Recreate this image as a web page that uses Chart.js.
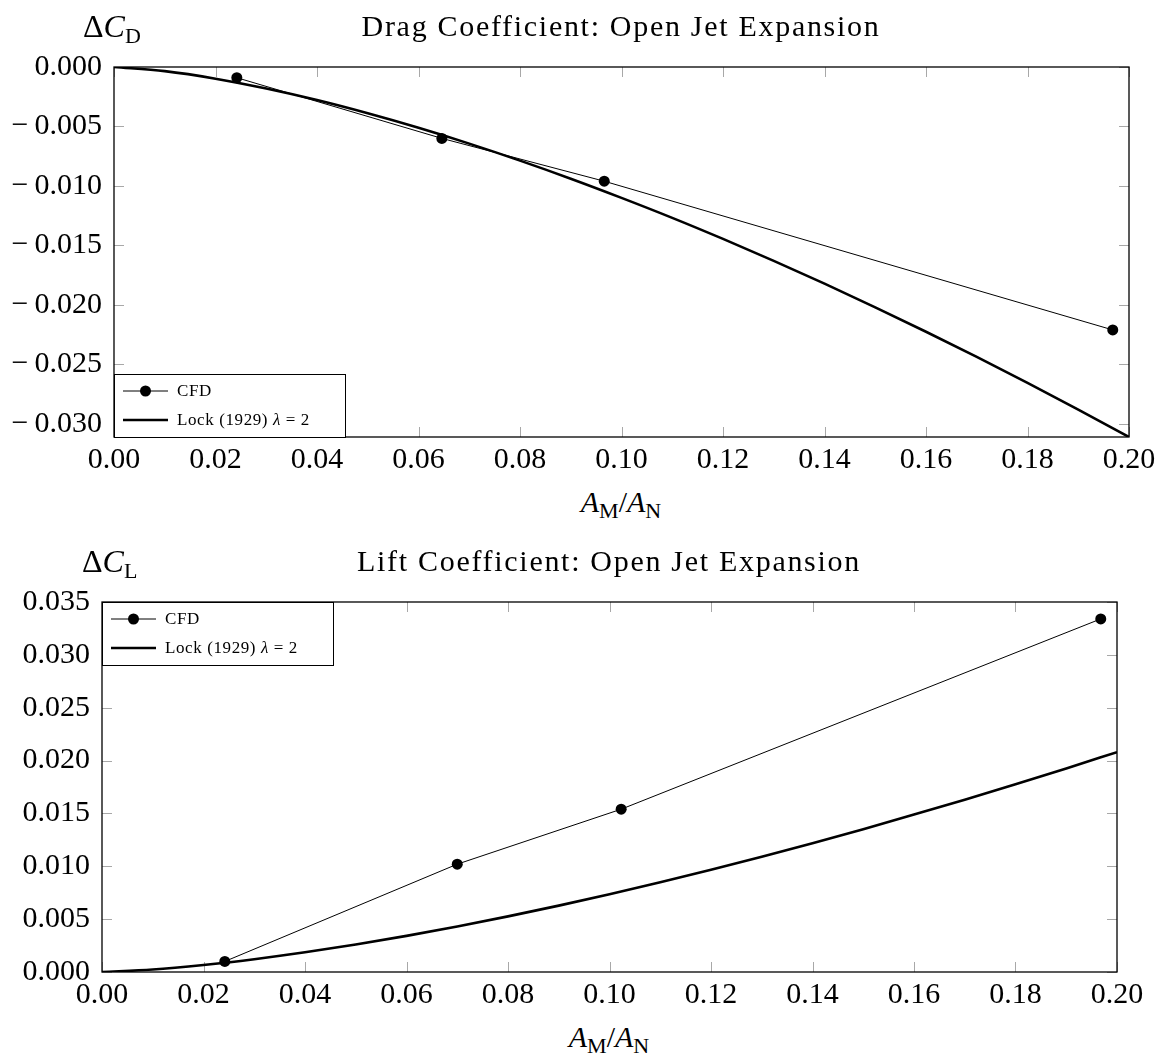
<!DOCTYPE html>
<html>
<head>
<meta charset="utf-8">
<title>Open Jet Expansion</title>
<script src="https://cdn.jsdelivr.net/npm/chart.js@4.4.1/dist/chart.umd.min.js"></script>
<style>
    body { margin: 0; background: #fff; }
    #page { position: relative; width: 1164px; height: 1056px; font-family: 'Liberation Serif', serif; color: #000; }
    .panel { position: absolute; left: 0; width: 1164px; height: 480px; }
    .lbl { position: absolute; font-size: 30px; line-height: 30px; white-space: nowrap; }
    .ylbl { font-size: 32px; }
    .title { letter-spacing: 1.7px; transform: translateX(-50%); }
    .center { transform: translateX(-50%); }
    .lbl sub { font-size: 22px; vertical-align: -6px; line-height: 0; font-style: normal; }
</style>
</head>
<body>
<div id="page">
    <div class="panel" style="top:0"><canvas id="drag-chart" width="1164" height="480"></canvas></div>
    <div class="panel" style="top:535px"><canvas id="lift-chart" width="1164" height="480"></canvas></div>

    <div class="lbl ylbl" style="left:83px; top:11px">&Delta;<i>C</i><sub>D</sub></div>
    <div class="lbl title" style="left:621px; top:11px">Drag Coefficient: Open Jet Expansion</div>
    <div class="lbl center" style="left:621px; top:487px"><i>A</i><sub>M</sub>/<i>A</i><sub>N</sub></div>

    <div class="lbl ylbl" style="left:82px; top:546px">&Delta;<i>C</i><sub>L</sub></div>
    <div class="lbl title" style="left:609px; top:546px">Lift Coefficient: Open Jet Expansion</div>
    <div class="lbl center" style="left:609px; top:1022px"><i>A</i><sub>M</sub>/<i>A</i><sub>N</sub></div>
</div>

<script>
// ===== Data =====
const ratioTicks = [0, 0.02, 0.04, 0.06, 0.08, 0.10, 0.12, 0.14, 0.16, 0.18, 0.20];
const dragTicks = [0, -0.005, -0.010, -0.015, -0.020, -0.025, -0.030];
const liftTicks = [0, 0.005, 0.010, 0.015, 0.020, 0.025, 0.030, 0.035];

// CFD runs
const cfdDragRatio = [0.0242, 0.0646, 0.0966, 0.1968];
const cfdDrag = [-0.0009, -0.0060, -0.0096, -0.0221];
const cfdLiftRatio = [0.0242, 0.0700, 0.1023, 0.1968];
const cfdLift = [0.0010, 0.0102, 0.0154, 0.0334];

// Lock (1929), lambda = 2
const lockRatio = [0, 0.01, 0.02, 0.03, 0.04, 0.05, 0.06, 0.07, 0.08, 0.09, 0.10,
    0.11, 0.12, 0.13, 0.14, 0.15, 0.16, 0.17, 0.18, 0.19, 0.20];
const lockDrag = [0, -0.00035, -0.00098, -0.00181, -0.00278, -0.00389, -0.00511, -0.00644, -0.00787, -0.00939, -0.01100,
    -0.01268, -0.01445, -0.01630, -0.01821, -0.02020, -0.02225, -0.02437, -0.02655, -0.02880, -0.03110];
const lockLift = [0, 0.00023, 0.00066, 0.00121, 0.00186, 0.00260, 0.00342, 0.00431, 0.00526, 0.00628, 0.00736,
    0.00849, 0.00967, 0.01090, 0.01218, 0.01351, 0.01489, 0.01630, 0.01776, 0.01926, 0.02080];

const FONT = "'Liberation Serif', serif";
const TICK_GRAY = '#a8a8a8';

const toPoints = (xs, ys) => xs.map((x, i) => ({ x, y: ys[i] }));
// wide minus like the TeX one
const fmtY = v => (v < 0 ? '\u2212\u2009' : '') + Math.abs(v).toFixed(3);

// ===== Plugins =====
// pgfplots-style frame with short inward ticks on all four sides
const frameTicks = {
    id: 'frameTicks',
    beforeDatasetsDraw(chart) {
        const { ctx, chartArea: a, scales: { x, y } } = chart;
        ctx.save();
        ctx.strokeStyle = TICK_GRAY;
        ctx.lineWidth = 1;
        ctx.beginPath();
        x.ticks.forEach(t => {
            const px = Math.round(x.getPixelForValue(t.value)) + 0.5;
            ctx.moveTo(px, a.top); ctx.lineTo(px, a.top + 10);
            ctx.moveTo(px, a.bottom); ctx.lineTo(px, a.bottom - 10);
        });
        y.ticks.forEach(t => {
            const py = Math.round(y.getPixelForValue(t.value)) + 0.5;
            ctx.moveTo(a.left, py); ctx.lineTo(a.left + 10, py);
            ctx.moveTo(a.right, py); ctx.lineTo(a.right - 10, py);
        });
        ctx.stroke();
        ctx.restore();
    },
    afterDatasetsDraw(chart) {
        const { ctx, chartArea: a } = chart;
        ctx.save();
        ctx.strokeStyle = '#000';
        ctx.lineWidth = 1.3;
        ctx.strokeRect(a.left, a.top, a.width, a.height);
        ctx.restore();
    }
};

// boxed legend tucked into a corner of the plot
const boxLegend = {
    id: 'boxLegend',
    afterDraw(chart, args, opts) {
        const { ctx, chartArea: a } = chart;
        const w = 231, h = 63;
        const x0 = a.left;
        const y0 = opts.corner === 'bottom' ? a.bottom - h : a.top;
        ctx.save();
        ctx.fillStyle = '#fff';
        ctx.fillRect(x0, y0, w, h);
        ctx.strokeStyle = '#000';
        ctx.lineWidth = 1;
        ctx.strokeRect(x0 + 0.5, y0 + 0.5, w, h);

        chart.data.datasets.forEach((ds, i) => {
            const cy = y0 + 17 + i * 29;
            ctx.strokeStyle = ds.borderColor;
            ctx.lineWidth = ds.borderWidth;
            ctx.beginPath();
            ctx.moveTo(x0 + 9, cy);
            ctx.lineTo(x0 + 54, cy);
            ctx.stroke();
            if (ds.pointRadius > 0) {
                ctx.fillStyle = ds.pointBackgroundColor;
                ctx.beginPath();
                ctx.arc(x0 + 31.5, cy, ds.pointRadius, 0, Math.PI * 2);
                ctx.fill();
            }

            // label text; the lambda is set in italics
            ctx.fillStyle = '#000';
            ctx.textBaseline = 'middle';
            ctx.letterSpacing = '0.6px';
            let tx = x0 + 63;
            const parts = ds.label.split('λ');
            parts.forEach((part, j) => {
                ctx.font = `17px ${FONT}`;
                ctx.fillText(part, tx, cy + 1);
                tx += ctx.measureText(part).width;
                if (j < parts.length - 1) {
                    ctx.font = `italic 17px ${FONT}`;
                    ctx.fillText('λ', tx, cy + 1);
                    tx += ctx.measureText('λ').width;
                }
            });
        });
        ctx.restore();
    }
};

// ===== Chart =====
function makePanel(canvasId, cfg) {
    const ctx = document.getElementById(canvasId).getContext('2d');
    return new Chart(ctx, {
        type: 'line',
        data: {
            datasets: [{
                label: 'CFD',
                data: toPoints(cfg.cfdRatio, cfg.cfdValues),
                borderColor: '#000',
                borderWidth: 1,
                pointRadius: 5.5,
                pointBackgroundColor: '#000',
                pointBorderWidth: 0,
                tension: 0,
                fill: false
            }, {
                label: 'Lock (1929) λ = 2',
                data: toPoints(lockRatio, cfg.lockValues),
                borderColor: '#000',
                borderWidth: 2.6,
                pointRadius: 0,
                cubicInterpolationMode: 'monotone',
                fill: false
            }]
        },
        options: {
            responsive: false,
            animation: false,
            events: [],
            layout: { padding: { top: 67, right: cfg.rightPad, bottom: 3, left: 0 } },
            plugins: {
                legend: { display: false },
                tooltip: { enabled: false },
                boxLegend: { corner: cfg.legendCorner }
            },
            scales: {
                x: {
                    type: 'linear',
                    min: 0,
                    max: 0.2,
                    afterBuildTicks: s => { s.ticks = ratioTicks.map(v => ({ value: v })); },
                    afterFit: s => { s.height = 40; },
                    grid: { display: false, drawTicks: false },
                    border: { display: false },
                    ticks: {
                        color: '#000',
                        font: { family: FONT, size: 30 },
                        padding: 5,
                        maxRotation: 0,
                        autoSkip: false,
                        callback: v => v.toFixed(2)
                    }
                },
                y: {
                    type: 'linear',
                    min: cfg.yMin,
                    max: cfg.yMax,
                    afterBuildTicks: s => { s.ticks = cfg.yTicks.map(v => ({ value: v })); },
                    afterFit: s => { s.width = cfg.yWidth; },
                    grid: { display: false, drawTicks: false },
                    border: { display: false },
                    ticks: {
                        color: '#000',
                        font: { family: FONT, size: 30 },
                        padding: 12,
                        autoSkip: false,
                        callback: fmtY
                    }
                }
            }
        },
        plugins: [frameTicks, boxLegend]
    });
}

makePanel('drag-chart', {
    cfdRatio: cfdDragRatio,
    cfdValues: cfdDrag,
    lockValues: lockDrag,
    yTicks: dragTicks,
    yMin: -0.0311,
    yMax: 0,
    yWidth: 114,
    rightPad: 35,
    legendCorner: 'bottom'
});

makePanel('lift-chart', {
    cfdRatio: cfdLiftRatio,
    cfdValues: cfdLift,
    lockValues: lockLift,
    yTicks: liftTicks,
    yMin: 0,
    yMax: 0.035,
    yWidth: 102,
    rightPad: 47,
    legendCorner: 'top'
});
</script>
</body>
</html>
